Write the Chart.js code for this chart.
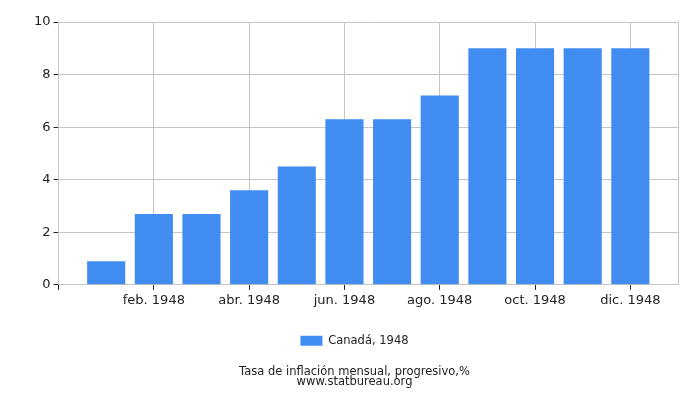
<!DOCTYPE html>
<html>
<head>
<meta charset="utf-8">
<script src="https://cdn.jsdelivr.net/npm/chart.js@4.4.0/dist/chart.umd.min.js"></script>
<style>
html,body{margin:0;padding:0;background:#fff;}
#wrap{width:700px;height:400px;}
</style>
</head>
<body>
<div id="wrap"><canvas id="c" width="700" height="400"></canvas></div>
<script>
const months = ['ene. 1948','feb. 1948','mar. 1948','abr. 1948','may. 1948','jun. 1948','jul. 1948','ago. 1948','sep. 1948','oct. 1948','nov. 1948','dic. 1948'];
const values = [0.9, 2.7, 2.7, 3.6, 4.5, 6.3, 6.3, 7.2, 9.0, 9.0, 9.0, 9.0];
const seriesLabel = 'Canadá, 1948';
const titleLines = ['Tasa de inflación mensual, progresivo,%', 'www.statbureau.org'];
const yTicks = [0, 2, 4, 6, 8, 10];

const points = values.map((v, i) => ({x: i + 1, y: v}));
const FONT = 'DejaVu Sans';
const GRID = '#c4c4c4';

new Chart(document.getElementById('c'), {
  type: 'bar',
  data: {
    datasets: [{
      label: seriesLabel,
      data: points,
      backgroundColor: '#418cf0',
      borderWidth: 0,
      barPercentage: 0.8,
      categoryPercentage: 1.0
    }]
  },
  options: {
    responsive: false,
    animation: false,
    layout: {padding: {left: 31, right: 22, top: 22, bottom: 13}},
    scales: {
      x: {
        type: 'linear',
        min: 0,
        max: 13,
        offset: false,
        afterBuildTicks: (axis) => {
          axis.ticks = [];
          for (let i = 0; i <= months.length + 1; i++) axis.ticks.push({value: i});
        },
        ticks: {
          autoSkip: false,
          maxRotation: 0,
          color: '#222',
          font: {family: FONT, size: 13},
          padding: 3,
          callback: (v) => (v >= 1 && v <= 12 && v % 2 === 0) ? months[v - 1] : ''
        },
        grid: {
          offset: false,
          color: (ctx) => {
            const v = ctx.tick && ctx.tick.value;
            return (v === 13 || (v > 0 && v % 2 === 0)) ? GRID : 'rgba(0,0,0,0)';
          },
          tickColor: (ctx) => {
            const v = ctx.tick && ctx.tick.value;
            return (v === 0 || (v > 0 && v < 13 && v % 2 === 0)) ? '#222' : 'rgba(0,0,0,0)';
          },
          tickLength: 5
        },
        border: {color: GRID}
      },
      y: {
        min: 0,
        max: 10,
        afterBuildTicks: (axis) => { axis.ticks = yTicks.map(v => ({value: v})); },
        ticks: {
          color: '#222',
          font: {family: FONT, size: 13},
          padding: 3
        },
        grid: {
          color: GRID,
          tickColor: '#222',
          tickLength: 5
        },
        border: {color: GRID}
      }
    },
    plugins: {
      legend: {
        position: 'bottom',
        labels: {
          font: {family: FONT, size: 11.5},
          color: '#222',
          boxWidth: 22,
          boxHeight: 10,
          padding: 23.5
        }
      },
      title: {
        display: true,
        position: 'bottom',
        text: titleLines,
        color: '#222',
        font: {family: FONT, size: 11.5, weight: 'normal', lineHeight: 0.85},
        padding: {top: 11, bottom: 0}
      },
      tooltip: {enabled: false}
    }
  }
});
</script>
</body>
</html>
